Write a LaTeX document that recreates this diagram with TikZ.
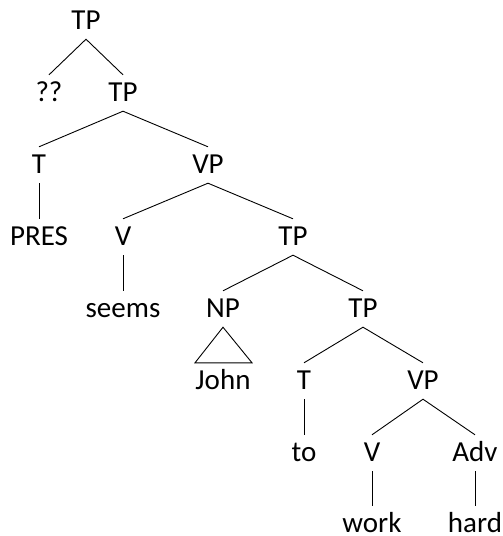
\documentclass[tikz,border=0pt]{standalone}
\usepackage{fontspec}
\setmainfont{Carlito}
\usepackage{tikz}

\begin{document}
\begin{tikzpicture}[x=1pt,y=-1pt,
		cat/.style={anchor=base,inner xsep=2pt,inner ysep=8pt,text height=18pt,text depth=2pt,font=\fontsize{29}{34}\selectfont},
		br/.style={line width=0.9pt}]
				\useasboundingbox (0,0) rectangle (503,536);
				\node[cat] (tpa) at (86,29) {TP};
				\node[cat] (qq) at (49,101) {??};
				\node[cat] (tpb) at (123,101) {TP};
				\node[cat] (ta) at (39,173) {T};
				\node[cat] (vpa) at (208,173) {VP};
				\node[cat] (pres) at (39,245) {PRES};
				\node[cat] (va) at (123,245) {V};
				\node[cat] (tpc) at (293,245) {TP};
				\node[cat] (seems) at (123,317) {seems};
				\node[cat] (np) at (223,317) {NP};
				\node[cat] (tpd) at (363,317) {TP};
				\node[cat] (john) at (223,389) {John};
				\node[cat] (tb) at (304,389) {T};
				\node[cat] (vpb) at (423,389) {VP};
				\node[cat] (to) at (304,461) {to};
				\node[cat] (vb) at (372,461) {V};
				\node[cat] (adv) at (475,461) {Adv};
				\node[cat] (work) at (372,532) {work};
				\node[cat] (hard) at (475,532) {hard};
				
				\draw[br] (qq.north) -- (tpa.south) -- (tpb.north);
				\draw[br] (ta.north) -- (tpb.south) -- (vpa.north);
				\draw[br] (ta.south) -- (pres.north);
				\draw[br] (va.north) -- (vpa.south) -- (tpc.north);
				\draw[br] (va.south) -- (seems.north);
				\draw[br] (np.north) -- (tpc.south) -- (tpd.north);
				%\draw[br] (np.south) -- (john.north);
				\draw[br] (np.south) -- ([xshift=-28]john.north) -- ([xshift=29]john.north) -- cycle;
				\draw[br] (tb.north) -- (tpd.south) -- (vpb.north);
				\draw[br] (tb.south) -- (to.north);
				\draw[br] (vb.north) -- (vpb.south) -- (adv.north);
				\draw[br] (vb.south) -- (work.north);
				\draw[br] (adv.south) -- (hard.north);
			\end{tikzpicture}
\end{document}
